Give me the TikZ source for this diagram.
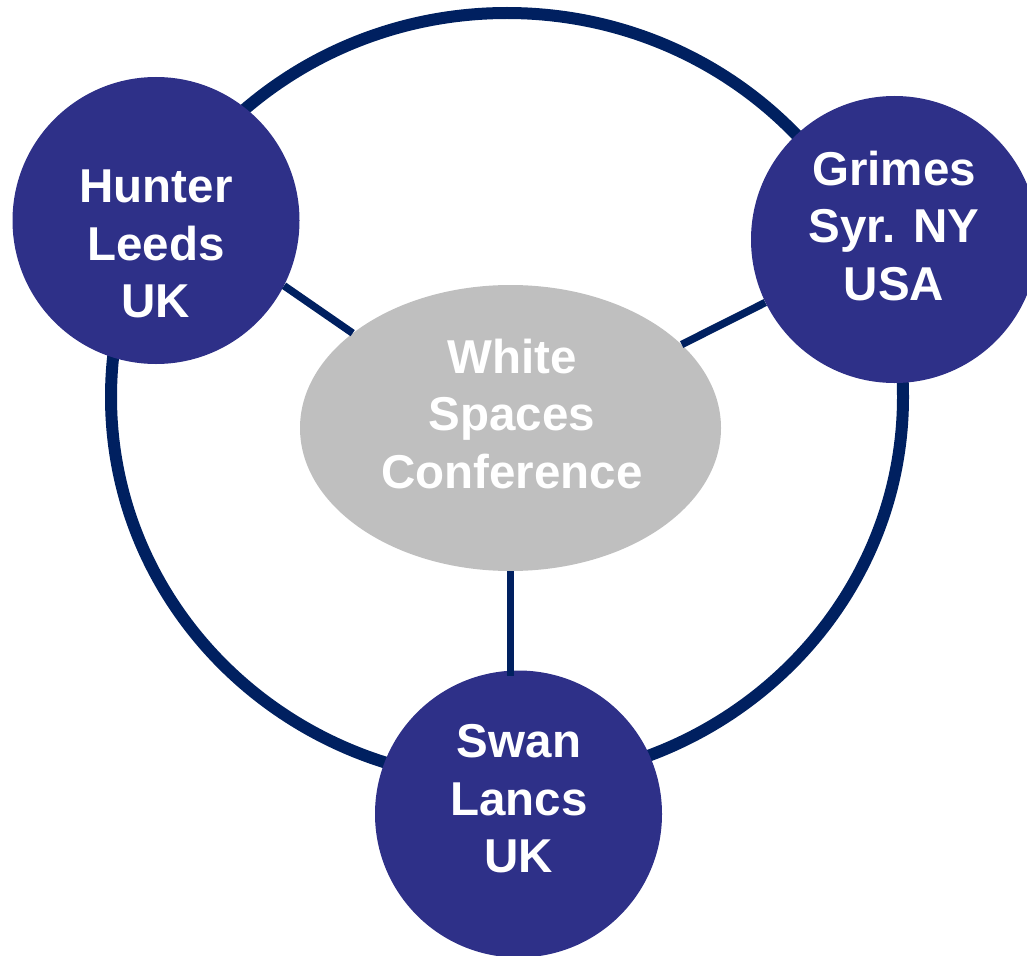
\documentclass[tikz,border=0pt]{standalone}
\usepackage{fontspec}
\setmainfont{Liberation Sans}
\usetikzlibrary{shapes.geometric}
\definecolor{ringblue}{RGB}{0,32,96}
\definecolor{discblue}{RGB}{46,48,136}
\definecolor{confgrey}{RGB}{191,191,191}
\tikzset{
  disc/.style={circle, fill=discblue, draw=none, minimum size=287pt, inner sep=0pt},
  conf/.style={ellipse, fill=confgrey, draw=none, minimum width=421pt, minimum height=286pt, inner sep=0pt},
  lbl/.style={text=white, align=center, inner sep=0pt, font=\bfseries\fontsize{47.5}{57.5}\selectfont},
  ringline/.style={draw=ringblue, line width=12pt},
  link/.style={draw=ringblue, line width=7.5pt}
}
\begin{document}
\begin{tikzpicture}[x=1pt, y=-1pt]
\useasboundingbox (0,0) rectangle (1027,955);
\clip (0,0) rectangle (1027,955);
% big ring
\node[ellipse, ringline, minimum width=792pt, minimum height=768pt, inner sep=0pt, outer sep=0pt] (ring) at (507,397) {};
% central ellipse
\node[conf] (wsc) at (510.5,428) {};
% discs
\node[disc] (hunter) at (156,220.5) {};
\node[disc] (grimes) at (894.5,239.5) {};
\node[disc] (swan) at (518.5,814) {};
% connectors
\draw[link] (hunter.-27) -- (wsc.149);
\draw[link] (grimes.206) -- (wsc.26);
\draw[link, shorten >=-6pt] (wsc.south) -- (wsc.south |- swan.north);
% texts
\node[lbl] (wscT) at (512,414) {White\\Spaces\\Conference};
\node[lbl] (hunterT) at (156,244) {Hunter\\Leeds\\UK};
\node[lbl] (grimesT) at (894,226) {Grimes\\Syr. NY\\USA};
\node[lbl] (swanT) at (519,799) {Swan\\Lancs\\UK};
\end{tikzpicture}
\end{document}
